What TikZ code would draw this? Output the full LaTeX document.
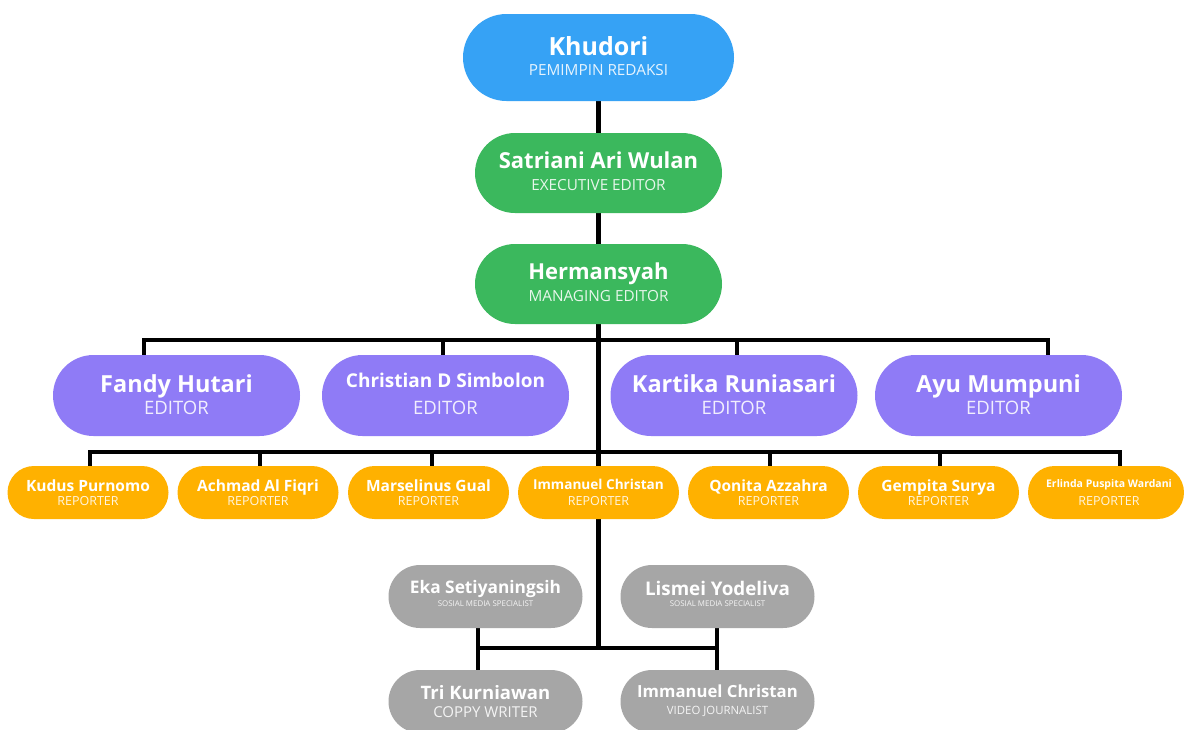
\documentclass[tikz,border=0pt]{standalone}
\usepackage{fontspec}
\setmainfont{Open Sans}
\definecolor{cblue}{RGB}{54,162,245}
\definecolor{cgreen}{RGB}{59,184,93}
\definecolor{cpurple}{RGB}{143,123,246}
\definecolor{corange}{RGB}{255,177,0}
\definecolor{cgray}{RGB}{166,166,166}
\newcommand\fsz[1]{\fontsize{#1}{#1}\selectfont}
\pgfdeclarelayer{paper}
\pgfdeclarelayer{wires}
\pgfsetlayers{paper,wires,main}
\tikzset{
  card/.style n args={3}{rectangle, rounded corners=#3/2, minimum width=#2, minimum height=#3, inner sep=0pt, fill=#1, draw=none},
  nametext/.style={text=white, inner sep=0pt, anchor=base, font=\fsz{#1}\bfseries},
  roletext/.style={text=white, text opacity=0.88, inner sep=0pt, anchor=base, font=\fsz{#1}},
  conn/.style={draw=black, line width=4.5pt}
}
\begin{document}
\begin{tikzpicture}[x=1pt,y=-1pt]
\useasboundingbox (0,0) rectangle (1184,729);
\clip (0,0) rectangle (1184,729);
\begin{pgfonlayer}{paper}
\fill[white] (0,0) rectangle (1184,729);
\end{pgfonlayer}

% ---------- bus coordinates ----------
\coordinate (eb1) at (144,340);
\coordinate (eb2) at (443,340);
\coordinate (eb3) at (737,340);
\coordinate (eb4) at (1048,340);
\coordinate (rb1) at (90,452);
\coordinate (rb2) at (260,452);
\coordinate (rb3) at (432,452);
\coordinate (rb5) at (770,452);
\coordinate (rb6) at (940,452);
\coordinate (rb7) at (1120,452);
\coordinate (gb1) at (478,648);
\coordinate (gb2) at (717,648);
\coordinate (tend) at (598.5,648);

% ---------- boxes ----------
\node[card={cblue}{271}{87}] (khu) at (598.5,57.5) {};
\node[card={cgreen}{247}{80}] (sat) at (598.5,173) {};
\node[card={cgreen}{247}{80}] (her) at (598.5,284) {};

\node[card={cpurple}{247}{81}] (fan) at (176.5,395.5) {};
\node[card={cpurple}{247}{81}] (chr) at (445.5,395.5) {};
\node[card={cpurple}{247}{81}] (kar) at (734,395.5) {};
\node[card={cpurple}{247}{81}] (ayu) at (998.5,395.5) {};

\node[card={corange}{161}{53}] (kud) at (88,492.5) {};
\node[card={corange}{161}{53}] (ach) at (258,492.5) {};
\node[card={corange}{161}{53}] (mar) at (428.5,492.5) {};
\node[card={corange}{161}{53}] (imm) at (598.5,492.5) {};
\node[card={corange}{161}{53}] (qon) at (768.5,492.5) {};
\node[card={corange}{161}{53}] (gem) at (938.5,492.5) {};
\node[card={corange}{156}{53}] (erl) at (1106,492.5) {};

\node[card={cgray}{194}{63}] (eka) at (485.5,596.5) {};
\node[card={cgray}{194}{63}] (lis) at (717.5,596.5) {};
\node[card={cgray}{194}{63}] (tri) at (485.5,701.5) {};
\node[card={cgray}{194}{63}] (vid) at (717.5,701.5) {};

% ---------- connectors (behind the boxes) ----------
\begin{pgfonlayer}{wires}
\draw[conn] (khu.south) -- (sat.north);
\draw[conn] (sat.south) -- (her.north);
\draw[conn] (her.south) -- (tend);
\draw[conn] (eb1 |- fan.north) -- (eb1) -- (eb4) -- (eb4 |- ayu.north);
\draw[conn] (eb2) -- (eb2 |- chr.north);
\draw[conn] (eb3) -- (eb3 |- kar.north);
\draw[conn] (rb1 |- kud.north) -- (rb1) -- (rb7) -- (rb7 |- erl.north);
\draw[conn] (rb2) -- (rb2 |- ach.north);
\draw[conn] (rb3) -- (rb3 |- mar.north);
\draw[conn] (rb5) -- (rb5 |- qon.north);
\draw[conn] (rb6) -- (rb6 |- gem.north);
\draw[conn] (gb1) -- (gb2);
\draw[conn] (gb1 |- eka.south) -- (gb1 |- tri.north);
\draw[conn] (gb2 |- lis.south) -- (gb2 |- vid.north);
\end{pgfonlayer}

% ---------- texts ----------
\node[nametext=25] (khu-n) at (598.5,55) {Khudori};
\node[roletext=15.3] (khu-r) at (598.5,75.5) {PEMIMPIN REDAKSI};
\node[nametext=22] (sat-n) at (598.5,168.5) {Satriani Ari Wulan};
\node[roletext=15.3] (sat-r) at (598.5,190.5) {EXECUTIVE EDITOR};
\node[nametext=22] (her-n) at (598.5,279.5) {Hermansyah};
\node[roletext=15.3] (her-r) at (598.5,301.5) {MANAGING EDITOR};

\node[nametext=23.5] (fan-n) at (176.5,392.5) {Fandy Hutari};
\node[roletext=18.5] (fan-r) at (176.5,414.5) {EDITOR};
\node[nametext=19] (chr-n) at (445.5,387) {Christian D Simbolon};
\node[roletext=18.5] (chr-r) at (445.5,414.5) {EDITOR};
\node[nametext=23.5] (kar-n) at (734,392.5) {Kartika Runiasari};
\node[roletext=18.5] (kar-r) at (734,414.5) {EDITOR};
\node[nametext=23.5] (ayu-n) at (998.5,392.5) {Ayu Mumpuni};
\node[roletext=18.5] (ayu-r) at (998.5,414.5) {EDITOR};

\node[nametext=15.5] (kud-n) at (88,491.5) {Kudus Purnomo};
\node[roletext=12.5] (kud-r) at (88,505.5) {REPORTER};
\node[nametext=15.5] (ach-n) at (258,491.5) {Achmad Al Fiqri};
\node[roletext=12.5] (ach-r) at (258,505.5) {REPORTER};
\node[nametext=15.5] (mar-n) at (428.5,491.5) {Marselinus Gual};
\node[roletext=12.5] (mar-r) at (428.5,505.5) {REPORTER};
\node[nametext=13.6] (imm-n) at (598.5,489) {Immanuel Christan};
\node[roletext=12.5] (imm-r) at (598.5,505.5) {REPORTER};
\node[nametext=15.5] (qon-n) at (768.5,491.5) {Qonita Azzahra};
\node[roletext=12.5] (qon-r) at (768.5,505.5) {REPORTER};
\node[nametext=15.5] (gem-n) at (938.5,491.5) {Gempita Surya};
\node[roletext=12.5] (gem-r) at (938.5,505.5) {REPORTER};
\node[nametext=10.5] (erl-n) at (1109,487) {Erlinda Puspita Wardani};
\node[roletext=12.5] (erl-r) at (1109,505.5) {REPORTER};

\node[nametext=17.3] (eka-n) at (485.5,593) {Eka Setiyaningsih};
\node[roletext=7.9] (eka-r) at (485.5,606) {SOSIAL MEDIA SPECIALIST};
\node[nametext=18.8] (lis-n) at (717.5,595.5) {Lismei Yodeliva};
\node[roletext=7.9] (lis-r) at (717.5,606) {SOSIAL MEDIA SPECIALIST};
\node[nametext=18.5] (tri-n) at (485.5,699.5) {Tri Kurniawan};
\node[roletext=15] (tri-r) at (485.5,717.5) {COPPY WRITER};
\node[nametext=16.7] (vid-n) at (717.5,697) {Immanuel Christan};
\node[roletext=11.4] (vid-r) at (717.5,714) {VIDEO JOURNALIST};
\end{tikzpicture}
\end{document}
